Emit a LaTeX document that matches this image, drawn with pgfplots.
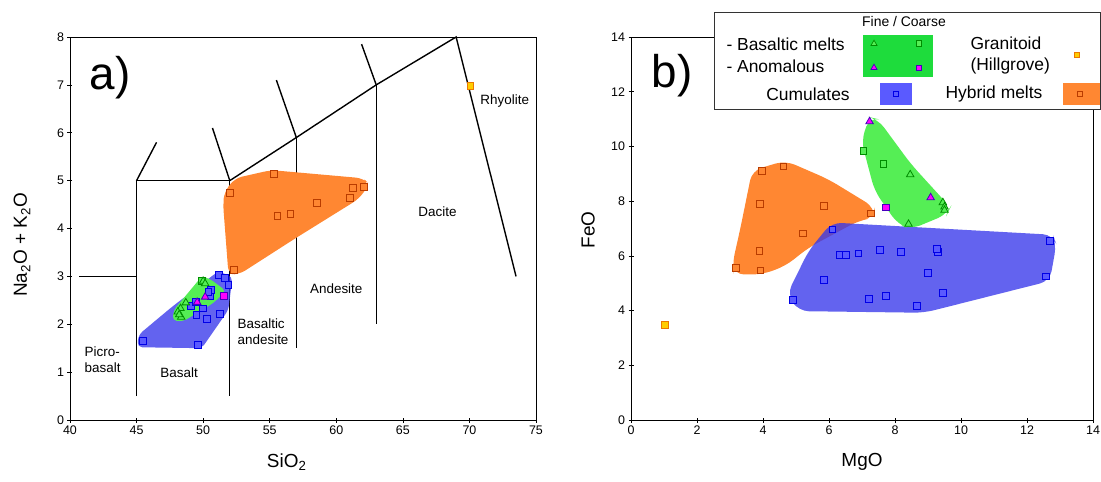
\documentclass[border=0pt]{standalone}
\usepackage{fontspec}
\setmainfont{Liberation Sans}
\usepackage{pgfplots}
\pgfplotsset{compat=1.18}
\usetikzlibrary{shapes.geometric}
\definecolor{orfill}{RGB}{255,135,50}
\definecolor{oredge}{RGB}{185,60,0}
\definecolor{grfill}{RGB}{85,238,85}
\definecolor{gredge}{RGB}{0,140,0}
\definecolor{blfill}{RGB}{55,55,235}
\definecolor{blmark}{RGB}{90,90,255}
\definecolor{bledge}{RGB}{0,0,230}
\definecolor{mag}{RGB}{255,0,255}
\definecolor{magedge}{RGB}{70,0,190}
\definecolor{yel}{RGB}{255,205,0}
\definecolor{yeledge}{RGB}{235,120,0}
\definecolor{leggreen}{RGB}{30,220,60}
\pgfplotsset{
  common/.style={scale only axis, height=383bp,
    axis line style={line width=0.9pt},
    tick align=center, major tick length=5bp, tick pos=left,
    tick style={black, line width=0.6pt},
    ticklabel style={font=\fontsize{12.5}{14}\selectfont},
    /pgf/number format/assume math mode=true,
    clip=false},
  omark/.style={only marks, mark=square*, mark size=3.4bp, mark options={draw=oredge, fill=orfill, line width=0.8pt}},
  ymark/.style={only marks, mark=square*, mark size=3.4bp, mark options={draw=yeledge, fill=yel, line width=0.8pt}},
  bmark/.style={only marks, mark=square*, mark size=3.4bp, mark options={draw=bledge, fill=blmark, line width=0.8pt}},
  gtri/.style={only marks, mark=triangle*, mark size=4.3bp, mark options={draw=gredge, fill=grfill, line width=0.8pt}},
  gsq/.style={only marks, mark=square*, mark size=3.4bp, mark options={draw=gredge, fill=grfill, line width=0.8pt}},
  mtri/.style={only marks, mark=triangle*, mark size=4.3bp, mark options={draw=magedge, fill=mag, line width=0.8pt}},
  msq/.style={only marks, mark=square*, mark size=3.4bp, mark options={draw=magedge, fill=mag, line width=0.8pt}},
  tas/.style={black, line width=1.4pt, no marks},
}
\begin{document}
\begin{tikzpicture}
\path[use as bounding box] (-70bp,-62bp) rectangle (1031bp,420bp);
% ---------------- panel a ----------------
\begin{axis}[common, width=466bp, xmin=40, xmax=75, ymin=0, ymax=8,
  xtick={40,45,...,75}, ytick={0,1,...,8},
  xlabel={SiO\textsubscript{2}}, ylabel={Na\textsubscript{2}O + K\textsubscript{2}O},
  every axis x label/.style={at={(axis description cs:0.465,-0.11)}, anchor=center, font=\fontsize{19}{22}\selectfont},
  every axis y label/.style={at={(axis description cs:-0.103,0.457)}, rotate=90, anchor=center, font=\fontsize{19}{22}\selectfont}]
% field boundaries
\addplot[tas] coordinates {(40.7,3) (45,3)};
\addplot[tas] coordinates {(45,0.5) (45,5) (52,5) (52,0.5)};
\addplot[tas] coordinates {(45,5) (46.5,5.8)};
\addplot[tas] coordinates {(52,5) (50.7,6.1)};
\addplot[tas] coordinates {(52,5) (57,5.9) (63,7) (69,8) (73.5,3)};
\addplot[tas] coordinates {(57,5.9) (57,1.5)};
\addplot[tas] coordinates {(57,5.9) (55.5,7.1)};
\addplot[tas] coordinates {(63,7) (63,2)};
\addplot[tas] coordinates {(63,7) (61.9,7.85)};
% fields
\addplot[fill=orfill, draw=none, rounded corners=7bp] coordinates {(51.6,4.77) (52.4,5.05) (55.1,5.22) (62.0,5.05) (62.5,4.93) (61.7,4.62) (56.9,3.79) (52.7,3.04) (51.9,3.05) (51.5,4.5)} -- cycle;
\addplot[fill=blfill, fill opacity=0.78, draw=none, rounded corners=5bp] coordinates {(45.05,1.52) (49.9,1.5) (51.9,2.3) (52.2,3.0) (51.1,3.1) (47.6,2.35) (45.15,1.78)} -- cycle;
\addplot[fill=grfill, draw=none, rounded corners=4bp] coordinates {(47.7,2.08) (48.5,2.06) (50.8,2.45) (51.7,2.7) (50.5,2.95) (49.9,3.0) (47.8,2.3)} -- cycle;
% data
\addplot[omark] coordinates {(52.0,4.75) (52.34,3.13) (55.3,5.14) (55.57,4.26) (56.56,4.31) (58.55,4.53) (61.03,4.64) (61.25,4.84) (62.05,4.87)};
\addplot[ymark] coordinates {(70.07,6.98)};
\addplot[bmark] coordinates {(45.45,1.65) (49.6,1.57) (49.5,2.19) (50.3,2.11) (51.25,2.21) (50.0,2.33) (49.1,2.38) (49.45,2.47) (50.55,2.6) (50.6,2.72) (51.2,3.03) (51.65,2.96) (51.9,2.83) (50.4,2.68)};
\addplot[gsq] coordinates {(49.9,2.9)};
\addplot[gtri] coordinates {(50.0,2.9) (50.15,2.85) (48.7,2.45) (48.3,2.33) (48.1,2.26) (48.35,2.15) (48.2,2.2)};
\addplot[mtri] coordinates {(49.55,2.46) (50.15,2.57)};
\addplot[msq] coordinates {(51.55,2.6)};
% labels
\node[font=\fontsize{46}{50}\selectfont] at (axis cs:43.0,7.15) {a)};
\node[font=\fontsize{13.5}{15}\selectfont] at (axis cs:72.65,6.66) {Rhyolite};
\node[font=\fontsize{13.5}{15}\selectfont] at (axis cs:67.6,4.35) {Dacite};
\node[font=\fontsize{13.5}{15}\selectfont] at (axis cs:60.0,2.74) {Andesite};
\node[font=\fontsize{13.5}{16.5}\selectfont, align=left] at (axis cs:54.5,1.84) {Basaltic\\andesite};
\node[font=\fontsize{13.5}{16.5}\selectfont, align=left] at (axis cs:42.45,1.26) {Picro-\\basalt};
\node[font=\fontsize{13.5}{15}\selectfont] at (axis cs:48.2,0.98) {Basalt};
\end{axis}
% ---------------- panel b ----------------
\begin{axis}[common, width=462bp, at={(561bp,0)}, xmin=0, xmax=14, ymin=0, ymax=14,
  xtick={0,2,...,14}, ytick={0,2,...,14},
  xlabel={MgO}, ylabel={FeO},
  every axis x label/.style={at={(axis description cs:0.5,-0.11)}, anchor=center, font=\fontsize{19}{22}\selectfont},
  every axis y label/.style={at={(axis description cs:-0.093,0.496)}, rotate=90, anchor=center, font=\fontsize{19}{22}\selectfont}]
\addplot[fill=orfill, draw=none, rounded corners=10bp] coordinates {(3.67,9.12) (4.68,9.48) (5.98,8.8) (7.38,7.77) (7.38,7.4) (6.89,7.28) (5.38,6.3) (4.68,5.63) (3.98,5.32) (3.12,5.32) (3.07,5.69) (3.32,7.04)} -- cycle;
\addplot[fill=blfill, fill opacity=0.78, draw=none, rounded corners=10bp] coordinates {(6.08,7.22) (12.79,6.77) (12.89,6.42) (12.69,5.08) (8.88,3.92) (5.08,3.98) (4.73,4.59) (5.38,6.18)} -- cycle;
\addplot[fill=grfill, draw=none, rounded corners=10bp] coordinates {(7.23,11.07) (6.98,10.21) (7.38,8.38) (8.08,7.16) (8.48,6.97) (9.58,7.52) (9.68,7.77) (8.48,9.36) (7.48,11.0)} -- cycle;
\addplot[omark] coordinates {(3.97,9.11) (4.62,9.27) (3.91,7.89) (5.84,7.84) (7.28,7.55) (5.2,6.82) (3.89,6.19) (3.19,5.56) (3.92,5.47)};
\addplot[ymark] coordinates {(1.02,3.48)};
\addplot[bmark] coordinates {(6.1,6.97) (6.32,6.03) (6.52,6.03) (6.89,6.09) (7.55,6.23) (8.19,6.14) (9.31,6.14) (9.28,6.25) (12.69,6.55) (8.99,5.37) (12.57,5.25) (5.84,5.12) (4.91,4.4) (7.21,4.43) (7.72,4.55) (9.46,4.65) (8.66,4.17)};
\addplot[gsq] coordinates {(7.04,9.83) (7.65,9.36)};
\addplot[gtri] coordinates {(8.46,8.97) (9.45,7.95) (9.5,7.79) (9.5,7.67) (8.41,7.16)};
\addplot[mtri] coordinates {(7.23,10.91) (9.08,8.13)};
\addplot[msq] coordinates {(7.73,7.77)};
\node[font=\fontsize{46}{50}\selectfont] at (axis cs:1.24,12.6) {b)};
\end{axis}
% ---------------- legend ----------------
\draw[fill=white, draw=black!80, line width=0.8pt] (644bp,311bp) rectangle (1030bp,408bp);
\node[font=\fontsize{14}{16}\selectfont] at (834bp,398bp) {Fine / Coarse};
\node[font=\fontsize{17.5}{20}\selectfont, anchor=west] at (653bp,376bp) {- Basaltic melts};
\node[font=\fontsize{17.5}{20}\selectfont, anchor=west] at (653bp,354bp) {- Anomalous};
\fill[leggreen] (792.7bp,342.7bp) rectangle (862.7bp,385bp);
\node[regular polygon, regular polygon sides=3, draw=gredge, fill=grfill, inner sep=0pt, minimum size=7bp, line width=0.7pt] at (804bp,376.3bp) {};
\node[draw=gredge, fill=grfill, inner sep=0pt, minimum size=5.5bp, line width=0.7pt] at (849bp,376.7bp) {};
\node[regular polygon, regular polygon sides=3, draw=magedge, fill=mag, inner sep=0pt, minimum size=7bp, line width=0.7pt] at (804bp,352.3bp) {};
\node[draw=magedge, fill=mag, inner sep=0pt, minimum size=5.5bp, line width=0.7pt] at (849bp,352.3bp) {};
\node[font=\fontsize{17.5}{20}\selectfont, anchor=west] at (897bp,377bp) {Granitoid};
\node[font=\fontsize{17.5}{20}\selectfont, anchor=west] at (897bp,354bp) {(Hillgrove)};
\node[draw=yeledge, fill=yel, inner sep=0pt, minimum size=5.5bp, line width=0.7pt] at (1006.7bp,365.3bp) {};
\node[font=\fontsize{17.5}{20}\selectfont] at (738bp,326bp) {Cumulates};
\fill[blmark] (810bp,315.3bp) rectangle (842.3bp,337bp);
\node[draw=bledge, fill=blmark, inner sep=0pt, minimum size=5.5bp, line width=0.7pt] at (826bp,326bp) {};
\node[font=\fontsize{17.5}{20}\selectfont] at (924bp,326bp) {Hybrid melts};
\fill[orfill] (992.7bp,315.3bp) rectangle (1030bp,337bp);
\node[draw=oredge, fill=orfill, inner sep=0pt, minimum size=5.5bp, line width=0.7pt] at (1010bp,326bp) {};
\end{tikzpicture}
\end{document}
